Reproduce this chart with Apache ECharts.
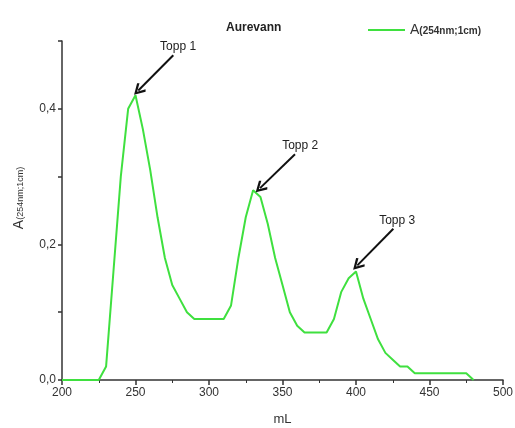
<!DOCTYPE html>
<html>
<head>
<meta charset="utf-8">
<script src="https://cdn.jsdelivr.net/npm/echarts@6/dist/echarts.min.js"></script>
<style>html,body{margin:0;padding:0;background:#fff}#c{width:515px;height:428px}</style>
</head>
<body>
<div id="c"></div>
<script>
// Data
const volumes = [200,205,210,215,220,225,230,235,240,245,250,255,260,265,270,275,280,285,290,295,300,305,310,315,320,325,330,335,340,345,350,355,360,365,370,375,380,385,390,395,400,405,410,415,420,425,430,435,440,445,450,455,460,465,470,475,480];
const absorbance = [0,0,0,0,0,0,0.02,0.16,0.30,0.40,0.42,0.37,0.31,0.24,0.18,0.14,0.12,0.10,0.09,0.09,0.09,0.09,0.09,0.11,0.18,0.24,0.28,0.27,0.23,0.18,0.14,0.10,0.08,0.07,0.07,0.07,0.07,0.09,0.13,0.15,0.16,0.12,0.09,0.06,0.04,0.03,0.02,0.02,0.01,0.01,0.01,0.01,0.01,0.01,0.01,0.01,0];
const xTicks = [200,250,300,350,400,450,500];
const yTickLabels = ['0,0','0,2','0,4'];
const peakLabels = ['Topp 1','Topp 2','Topp 3'];
const arrowTail = [[275.7,0.479],[358.5,0.333],[425.4,0.223]];
const arrowHead = [[251.9,0.427],[334.7,0.283],[400.9,0.169]];
const labelPos = [[279,0.492],[362,0.346],[428,0.235]];

const chart = echarts.init(document.getElementById('c'), null, {renderer:'canvas'});
const font = 'Liberation Sans, Arial, sans-serif';
const axisColor = '#333';
const chevron = 'path://M0,0 L7,10 L5,11.6 L0,4.2 L-5,11.6 L-7,10 Z';

chart.setOption({
  animation:false,
  backgroundColor:'#fff',
  title:{text:'Aurevann', left:221, top:17, textStyle:{fontFamily:font,fontSize:12,fontWeight:'bold',color:'#222'}},
  legend:{
    left:363, top:18, itemWidth:37, itemHeight:2, itemGap:4, icon:'rect',
    data:['A(254nm;1cm)'],
    formatter:function(){return '{a|A}{b|(254nm;1cm)}';},
    textStyle:{fontFamily:font,color:'#333',
      rich:{a:{fontSize:14,fontFamily:font,color:'#333'},b:{fontSize:10,fontWeight:'bold',fontFamily:font,color:'#333',padding:[3,0,0,0]}}}
  },
  grid:{left:62,right:12,top:41,bottom:48,containLabel:false,outerBoundsMode:'none'},
  xAxis:{
    type:'value', min:200, max:500, interval:50,
    name:'mL', nameLocation:'middle', nameGap:33, nameMoveOverlap:false,
    nameTextStyle:{fontFamily:font,fontSize:13,color:'#333'},
    axisLine:{show:true,onZero:false,lineStyle:{color:axisColor,width:1.5}},
    axisTick:{show:true,length:5,lineStyle:{color:axisColor,width:1.5}},
    minorTick:{show:true,splitNumber:2,length:3,lineStyle:{color:axisColor,width:1}},
    splitLine:{show:false},
    axisLabel:{fontFamily:font,fontSize:12,color:'#333',margin:7,
      formatter:function(v){return xTicks.indexOf(v)>=0?String(v):'';}}
  },
  yAxis:{
    type:'value', min:0, max:0.5, interval:0.1,
    name:'{a|A}{b|(254nm;1cm)}', nameLocation:'middle', nameGap:36, nameRotate:90, nameMoveOverlap:false,
    nameTextStyle:{fontFamily:font,color:'#333',padding:[0,0,0,25],
      rich:{a:{fontSize:14,fontFamily:font,color:'#333'},b:{fontSize:9,fontFamily:font,color:'#333',padding:[3,0,0,0]}}},
    axisLine:{show:true,lineStyle:{color:axisColor,width:1.5}},
    axisTick:{show:true,length:4,lineStyle:{color:axisColor,width:1.5}},
    splitLine:{show:false},
    axisLabel:{fontFamily:font,fontSize:12,color:'#333',margin:6,
      formatter:function(v){
        const i = Math.round(v*10);
        if(i%2===0 && i/2 < yTickLabels.length) return yTickLabels[i/2];
        return '';
      }}
  },
  series:[{
    name:'A(254nm;1cm)', type:'line', symbol:'none',
    data: volumes.map((v,i)=>[v,absorbance[i]]),
    lineStyle:{color:'#3fe03f',width:2},
    itemStyle:{color:'#3fe03f'},
    markLine:{
      silent:true, symbolSize:[12,12],
      lineStyle:{color:'#111',width:2,type:'solid'},
      label:{show:false},
      data: arrowTail.map((t,i)=>[{coord:t,symbol:'none'},{coord:arrowHead[i],symbol:chevron}])
    },
    markPoint:{
      silent:true, symbol:'circle', symbolSize:0,
      label:{show:true,position:'inside',fontFamily:font,fontSize:12,color:'#222',formatter:function(p){return p.name;}},
      data: labelPos.map((p,i)=>({name:peakLabels[i],coord:p}))
    }
  }]
});
</script>
</body>
</html>
